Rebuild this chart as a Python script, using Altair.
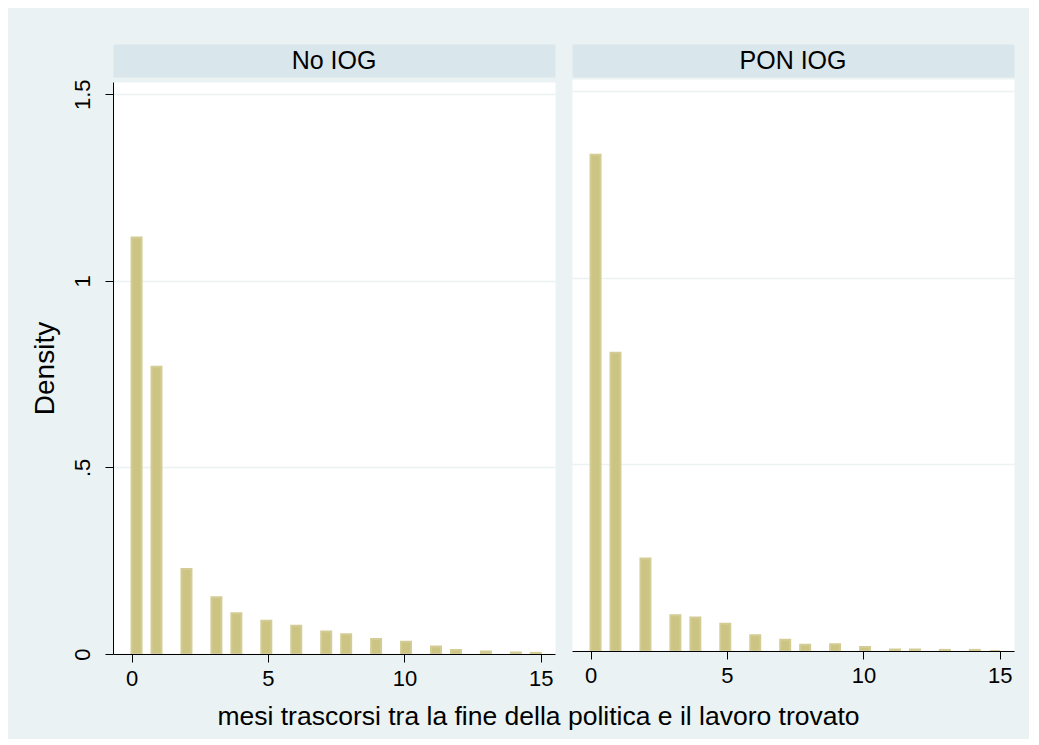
import math
import altair as alt
import pandas as pd

# ---------------- data ----------------
panels = ["No IOG", "PON IOG"]
months = list(range(16))
density_no_iog = [1.116, 0.770, 0.228, 0.152, 0.109, 0.089, 0.076, 0.060,
                  0.053, 0.040, 0.033, 0.020, 0.011, 0.007, 0.004, 0.003]
density_pon_iog = [1.330, 0.799, 0.248, 0.096, 0.090, 0.073, 0.042, 0.030,
                   0.017, 0.018, 0.011, 0.004, 0.004, 0.003, 0.003, 0.0]
y_ticks = [0, 0.5, 1, 1.5]
y_tick_labels = ["0", ".5", "1", "1.5"]
x_ticks = [0, 5, 10, 15]
x_title = "mesi trascorsi tra la fine della politica e il lavoro trovato"
y_title = "Density"
n_bins = 41
x_lo, x_hi = 0, 15

# ---------------- table ----------------
bin_w = (x_hi - x_lo) / n_bins
rows = []
for panel, dens in zip(panels, [density_no_iog, density_pon_iog]):
    for m, d in zip(months, dens):
        k = min(int(math.floor((m - x_lo) / bin_w + 1e-9)), n_bins - 1)
        rows.append({"panel": panel, "month": m, "density": d,
                     "bin_lo": x_lo + k * bin_w, "bin_hi": x_lo + (k + 1) * bin_w})
df = pd.DataFrame(rows)

# ---------------- style ----------------
FONT = "Liberation Sans"
BG = "#eaf2f3"
HEADER = "#d9e6eb"
BAR = "#ccc483"
BAR_EDGE = "#d3cc95"
PW, PH = 442, 572

label_expr = " : ".join(
    f"datum.value == {v} ? '{l}'" for v, l in zip(y_ticks, y_tick_labels)
) + " : datum.label"

x_scale = alt.Scale(domain=[-0.68, 15.52], nice=False, zero=False)
y_scale = alt.Scale(domain=[0, 1.533], nice=False, zero=True)


def x_axis():
    return alt.Axis(values=x_ticks, format="d", title=None, grid=False,
                    domainColor="#000000", domainWidth=1, tickColor="#000000",
                    tickSize=8, tickWidth=1, labelFont=FONT, labelFontSize=22,
                    labelColor="#000000", labelPadding=6, labelFlush=False,
                    zindex=1)


def y_axis(show):
    if show:
        return alt.Axis(values=y_ticks, labelExpr=label_expr, title=y_title,
                        grid=True, gridColor=BG, gridWidth=1.5,
                        domainColor="#000000", domainWidth=1, tickColor="#000000",
                        tickSize=8, tickWidth=1, labelAngle=270, labelAlign="center",
                        labelBaseline="bottom", labelPadding=11, labelFont=FONT,
                        labelFontSize=22, labelColor="#000000", labelFlush=False,
                        labelOverlap=False,
                        titleFont=FONT, titleFontSize=28, titleFontWeight="normal",
                        titleColor="#000000", titlePadding=12)
    return alt.Axis(values=y_ticks, labels=False, ticks=False, domain=False,
                    title=None, grid=True, gridColor=BG, gridWidth=1.5)


def header(panel):
    return alt.Chart(pd.DataFrame({"panel": [panel]})).mark_text(
        font=FONT, fontSize=25, color="#000000", align="center", baseline="middle"
    ).encode(
        text="panel:N", x=alt.value(PW / 2), y=alt.value(17)
    ).properties(width=PW, height=33,
                 view=alt.ViewBackground(fill=HEADER, stroke="transparent"))


def plot(panel, show_y):
    return alt.Chart(df[df["panel"] == panel]).mark_bar(
        fill=BAR, stroke=BAR_EDGE, strokeWidth=2
    ).encode(
        x=alt.X("bin_lo:Q", scale=x_scale, axis=x_axis()),
        x2="bin_hi:Q",
        y=alt.Y("density:Q", scale=y_scale, axis=y_axis(show_y)),
        y2=alt.datum(0),
    ).properties(width=PW, height=PH,
                 view=alt.ViewBackground(fill="#ffffff", stroke="transparent"))


left = alt.vconcat(header(panels[0]), plot(panels[0], True), spacing=0)
right = alt.vconcat(header(panels[1]), plot(panels[1], False), spacing=0)

chart = alt.hconcat(left, right, spacing=15).properties(
    background=BG,
    padding={"left": 22, "top": 35, "right": 14, "bottom": 9},
    title=alt.TitleParams(text=x_title, orient="bottom", anchor="middle",
                          font=FONT, fontSize=26.5, fontWeight="normal",
                          color="#000000", offset=14, dx=16),
).configure(font=FONT)

chart.save("out.html", embed_options={"renderer": "svg", "actions": False})
